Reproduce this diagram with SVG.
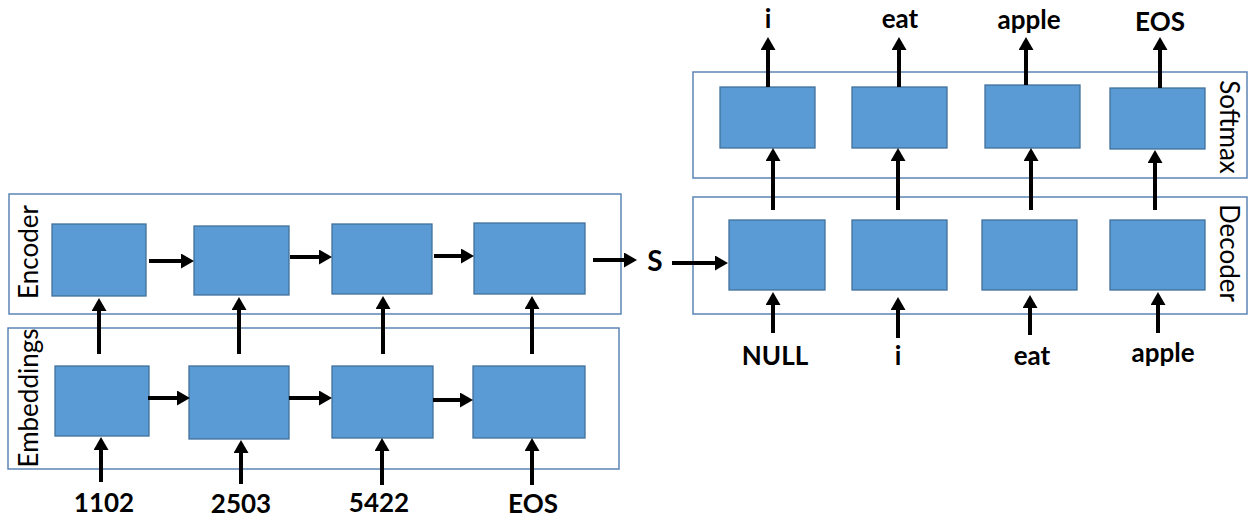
<svg xmlns="http://www.w3.org/2000/svg" width="1252" height="517" viewBox="0 0 1252 517">
<style>
.cont{fill:none;stroke:#5B85B5;stroke-width:1.5}
.blk{fill:#5B9BD5;stroke:#41719C;stroke-width:1.3}
.arr{stroke:#000;stroke-width:4;fill:none;marker-end:url(#ah)}
.lbl{font-family:Lato,"Liberation Sans",sans-serif;font-weight:bold;font-size:26px;fill:#000;text-anchor:middle;dominant-baseline:central}
.side{font-family:Lato,"Liberation Sans",sans-serif;font-size:26px;fill:#000;text-anchor:middle;dominant-baseline:central}
</style>
<defs>
<marker id="ah" markerUnits="userSpaceOnUse" markerWidth="15" markerHeight="15" viewBox="0 0 13 15" refX="4" refY="7.5" orient="auto">
<path d="M0,0 L13,7.5 L0,15 z" fill="#000"/>
</marker>
</defs>
<g id="encoder">
<rect class="cont" x="9" y="194" width="612" height="120"/>
<text class="side" transform="translate(28,252) rotate(-90)">Encoder</text>
</g>
<g id="embeddings">
<rect class="cont" x="8" y="328" width="611" height="141"/>
<text class="side" transform="translate(28,398) rotate(-90)">Embeddings</text>
</g>
<g id="decoder">
<rect class="cont" x="693" y="197" width="554" height="117"/>
<text class="side" transform="translate(1230,253) rotate(90)">Decoder</text>
</g>
<g id="softmax">
<rect class="cont" x="693" y="72" width="554" height="106"/>
<text class="side" transform="translate(1230,127) rotate(90)">Softmax</text>
</g>
<g id="enc1"><rect class="blk" x="52" y="224" width="94" height="72"/></g>
<g id="enc2"><rect class="blk" x="194" y="226" width="95" height="69"/></g>
<g id="enc3"><rect class="blk" x="332" y="224" width="100" height="70"/></g>
<g id="enc4"><rect class="blk" x="474" y="223" width="111" height="71"/></g>
<g id="emb1"><rect class="blk" x="55" y="366" width="94" height="70"/></g>
<g id="emb2"><rect class="blk" x="189" y="366" width="100" height="73"/></g>
<g id="emb3"><rect class="blk" x="332" y="366" width="101" height="72"/></g>
<g id="emb4"><rect class="blk" x="473" y="366" width="112" height="72"/></g>
<g id="dec1"><rect class="blk" x="729" y="220" width="96" height="70"/></g>
<g id="dec2"><rect class="blk" x="852" y="220" width="95" height="70"/></g>
<g id="dec3"><rect class="blk" x="982" y="220" width="95" height="70"/></g>
<g id="dec4"><rect class="blk" x="1110" y="220" width="95" height="70"/></g>
<g id="sm1"><rect class="blk" x="720" y="87" width="95" height="61"/></g>
<g id="sm2"><rect class="blk" x="852" y="87" width="95" height="61"/></g>
<g id="sm3"><rect class="blk" x="985" y="85" width="95" height="63"/></g>
<g id="sm4"><rect class="blk" x="1110" y="88" width="95" height="61"/></g>
<g id="labels">
<text class="lbl" x="104" y="502">1102</text>
<text class="lbl" x="241" y="503">2503</text>
<text class="lbl" x="379" y="502">5422</text>
<text class="lbl" x="533" y="503">EOS</text>
<text class="lbl" x="655" y="260" style="font-size:28px">S</text>
<text class="lbl" x="775" y="355">NULL</text>
<text class="lbl" x="898" y="355">i</text>
<text class="lbl" x="1032" y="355">eat</text>
<text class="lbl" x="1163" y="352">apple</text>
<text class="lbl" x="768" y="18">i</text>
<text class="lbl" x="900" y="18">eat</text>
<text class="lbl" x="1029" y="19">apple</text>
<text class="lbl" x="1160" y="21">EOS</text>
</g>
<g id="connectors">
<line class="arr" x1="149" y1="261" x2="185" y2="261"/>
<line class="arr" x1="290" y1="257" x2="323" y2="257"/>
<line class="arr" x1="434" y1="256" x2="465" y2="256"/>
<line class="arr" x1="593" y1="260" x2="628" y2="260"/>
<line class="arr" x1="672" y1="263" x2="719" y2="263"/>
<line class="arr" x1="148" y1="398" x2="181" y2="398"/>
<line class="arr" x1="289" y1="398" x2="323" y2="398"/>
<line class="arr" x1="433" y1="400" x2="464" y2="400"/>
<line class="arr" x1="99" y1="354" x2="99" y2="307"/>
<line class="arr" x1="239" y1="354" x2="239" y2="306"/>
<line class="arr" x1="383" y1="354" x2="383" y2="305"/>
<line class="arr" x1="532" y1="354" x2="532" y2="305"/>
<line class="arr" x1="101" y1="482" x2="101" y2="446"/>
<line class="arr" x1="241" y1="484" x2="241" y2="449"/>
<line class="arr" x1="382" y1="485" x2="382" y2="447"/>
<line class="arr" x1="532" y1="485" x2="532" y2="447"/>
<line class="arr" x1="773" y1="333" x2="773" y2="301"/>
<line class="arr" x1="898" y1="338" x2="898" y2="306"/>
<line class="arr" x1="1030" y1="335" x2="1030" y2="304"/>
<line class="arr" x1="1158" y1="333" x2="1158" y2="301"/>
<line class="arr" x1="773" y1="210" x2="773" y2="157"/>
<line class="arr" x1="898" y1="210" x2="898" y2="157"/>
<line class="arr" x1="1031" y1="210" x2="1031" y2="157"/>
<line class="arr" x1="1155" y1="210" x2="1155" y2="159"/>
<line class="arr" x1="768" y1="87" x2="768" y2="46"/>
<line class="arr" x1="899" y1="87" x2="899" y2="46"/>
<line class="arr" x1="1026" y1="85" x2="1026" y2="46"/>
<line class="arr" x1="1160" y1="88" x2="1160" y2="46"/>
</g>
</svg>
